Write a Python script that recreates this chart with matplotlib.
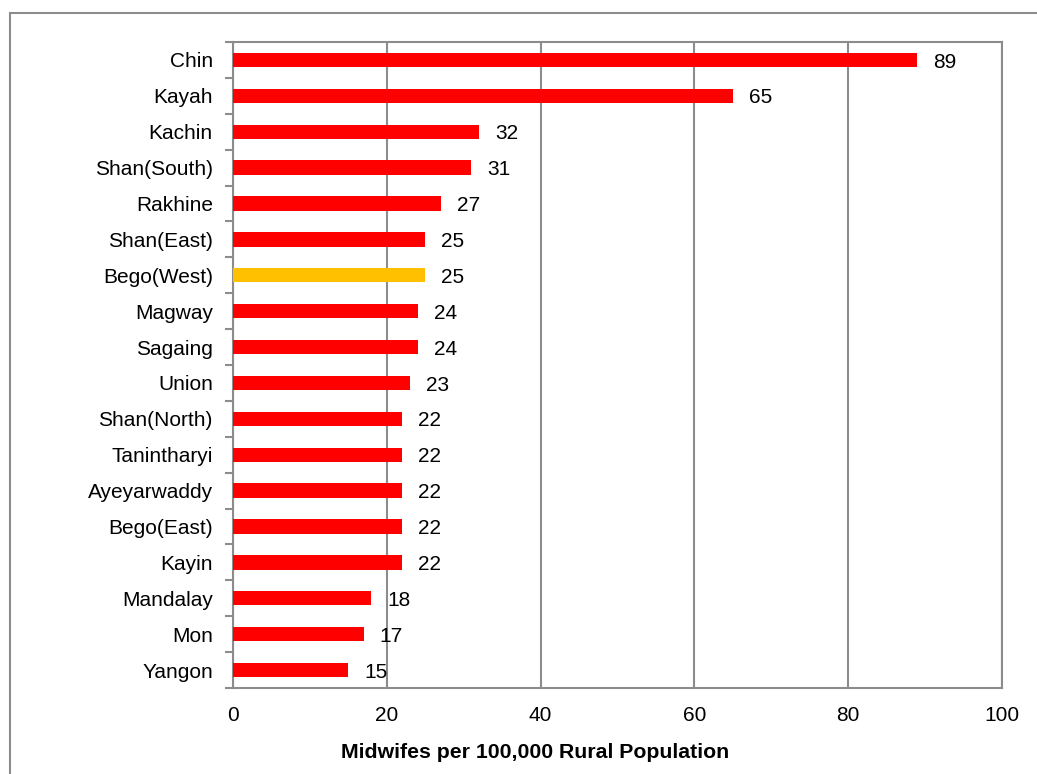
import matplotlib
matplotlib.use("Agg")
import matplotlib.pyplot as plt
from matplotlib.patches import Rectangle
import numpy as np

plt.rcParams['font.family'] = ['Liberation Sans', 'DejaVu Sans']

regions = ["Chin", "Kayah", "Kachin", "Shan(South)", "Rakhine", "Shan(East)",
           "Bego(West)", "Magway", "Sagaing", "Union", "Shan(North)", "Tanintharyi",
           "Ayeyarwaddy", "Bego(East)", "Kayin", "Mandalay", "Mon", "Yangon"]
values = [89, 65, 32, 31, 27, 25, 25, 24, 24, 23, 22, 22, 22, 22, 22, 18, 17, 15]
highlight = "Bego(West)"
xticks = [0, 20, 40, 60, 80, 100]
xlabel = "Midwifes per 100,000 Rural Population"

W, H = 1037, 774
fig = plt.figure(figsize=(W / 100, H / 100), dpi=100)
fig.patch.set_facecolor('white')

# outer chart frame
fig.add_artist(Rectangle((9.5 / W, -0.1), 1.2, 1.1 - 13.5 / H,
                         transform=fig.transFigure, fill=False,
                         edgecolor='#8c8c8c', linewidth=1.5))

ax = fig.add_axes([233 / W, (H - 688) / H, (1002 - 233) / W, (688 - 42) / H])

n = len(regions)
ypos = np.arange(n)
colors = ['#FFC000' if r == highlight else '#FF0000' for r in regions]
ax.barh(ypos, values, height=0.4, color=colors, zorder=3)

ax.set_ylim(n - 0.5, -0.5)
ax.set_xlim(0, 100)
ax.set_xticks(xticks)
ax.set_xticklabels([str(t) for t in xticks], fontsize=15)
ax.tick_params(axis='x', length=0, pad=13)

ax.set_yticks(ypos)
ax.set_yticklabels(regions, fontsize=15)
ax.tick_params(axis='y', which='major', length=0, pad=14.5)
ax.set_yticks(np.arange(-0.5, n, 1.0), minor=True)
ax.tick_params(axis='y', which='minor', length=6, width=1.5, color='#8c8c8c', direction='out')

ax.grid(axis='x', color='#8c8c8c', linewidth=1.5, zorder=0)
for s in ax.spines.values():
    s.set_color('#8c8c8c')
    s.set_linewidth(1.5)

for y, v in zip(ypos, values):
    ax.annotate(str(v), (v, y), xytext=(11.5, -1.5), textcoords='offset points',
                va='center', ha='left', fontsize=15, zorder=4)

fig.text(535 / W, 1 - 752 / H, xlabel, ha='center', va='center',
         fontsize=15.3, fontweight='bold')

fig.savefig("out.png", dpi=100)
